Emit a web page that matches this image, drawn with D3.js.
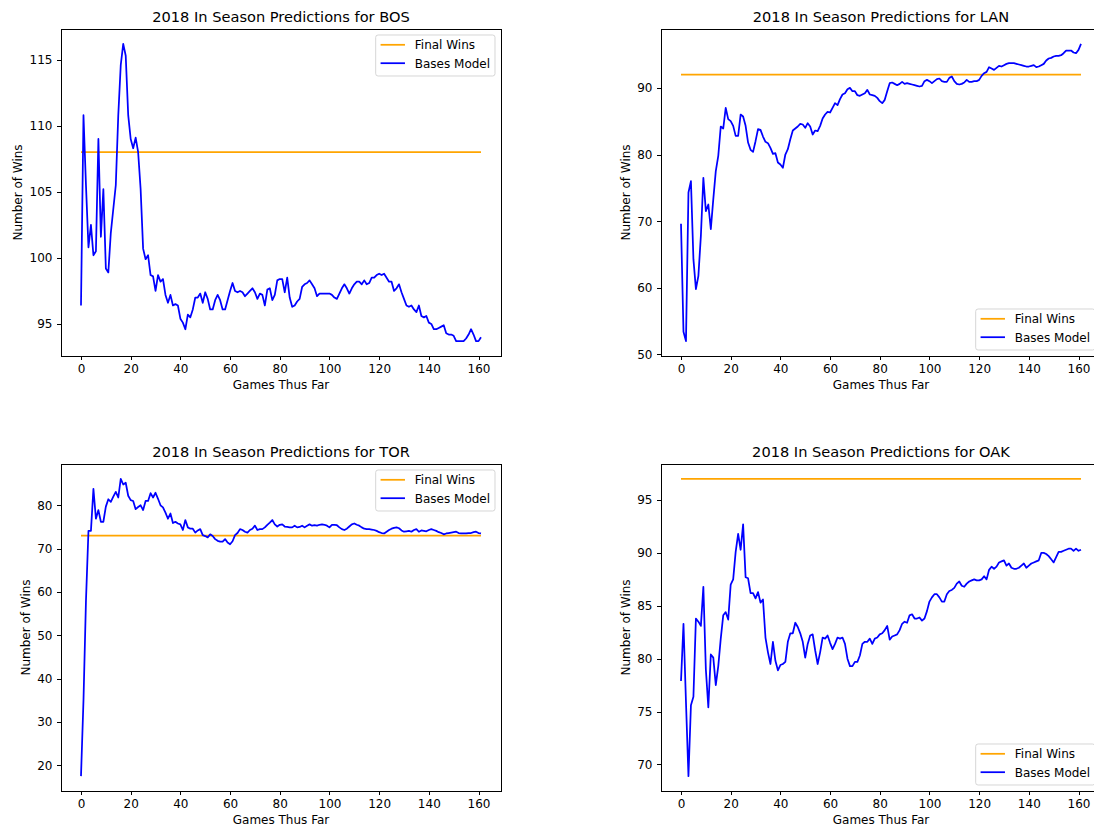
<!DOCTYPE html>
<html>
<head>
<meta charset="utf-8">
<script src="https://cdn.jsdelivr.net/npm/d3@7"></script>
<style>
  body { margin: 0; background: #fff; }
  svg { display: block; }
  text { font-family: "DejaVu Sans", sans-serif; fill: #000; }
</style>
</head>
<body>
<svg id="chart" width="1094" height="828"></svg>
<script>
// Predicted season win totals after each game played (index = games thus far)
const bosModel = [
  96.4, 110.8, 105.5, 100.8, 102.5, 100.2, 100.5, 109.0, 101.6, 105.2,
  99.2, 98.9, 101.9, 103.7, 105.5, 110.8, 114.6, 116.2, 115.3, 110.8,
  109.0, 108.3, 109.1, 108.0, 105.2, 100.7, 99.9, 100.2, 98.7, 98.6,
  97.5, 98.7, 98.2, 98.4, 97.2, 96.6, 97.2, 96.4, 96.5, 96.4,
  95.4, 95.1, 94.6, 95.7, 95.5, 96.1, 97.0, 97.0, 97.3, 96.6,
  97.4, 96.9, 96.1, 96.1, 96.8, 97.2, 96.8, 96.1, 96.1, 96.8,
  97.5, 98.1, 97.5, 97.4, 97.5, 97.4, 97.1, 97.3, 97.5, 97.7,
  97.4, 96.9, 97.3, 97.2, 96.4, 97.6, 97.7, 96.8, 97.2, 98.3,
  98.4, 98.4, 97.4, 98.5, 97.0, 96.3, 96.4, 96.7, 96.9, 97.8,
  98.0, 98.1, 98.3, 98.0, 97.7, 97.1, 97.3, 97.3, 97.3, 97.3,
  97.3, 97.2, 97.0, 96.9, 97.3, 97.7, 98.0, 97.7, 97.3, 97.7,
  98.0, 98.2, 98.2, 98.0, 98.3, 98.0, 98.1, 98.5, 98.5, 98.7,
  98.8, 98.7, 98.8, 98.5, 98.2, 98.2, 97.5, 97.7, 98.0, 97.4,
  96.9, 96.4, 96.3, 96.4, 96.1, 95.9, 96.4, 95.6, 95.5, 95.6,
  95.1, 95.0, 94.6, 94.6, 94.7, 94.8, 94.9, 94.3, 94.2, 94.2,
  94.1, 93.7, 93.7, 93.7, 93.7, 93.9, 94.2, 94.6, 94.2, 93.7,
  93.7, 94.0
];
const lanModel = [
  69.6, 53.4, 52.0, 74.3, 76.0, 64.3, 59.8, 61.8, 67.8, 76.5,
  71.5, 72.5, 68.8, 73.3, 77.5, 79.8, 84.2, 83.9, 87.0, 85.3,
  85.0, 84.3, 82.8, 82.8, 86.0, 85.7, 84.3, 81.8, 80.7, 80.4,
  82.0, 83.8, 83.7, 82.7, 81.9, 81.7, 81.0, 80.1, 80.2, 78.8,
  78.5, 78.0, 80.0, 80.8, 82.3, 83.6, 83.9, 84.2, 84.6, 84.5,
  84.0, 84.7, 84.2, 83.0, 83.6, 83.5, 84.3, 85.4, 86.0, 86.4,
  86.3, 87.0, 87.7, 87.4, 88.3, 89.0, 89.2, 89.8, 90.0, 89.5,
  89.5, 88.9, 88.8, 89.0, 89.2, 89.7, 89.0, 88.9, 88.8, 88.5,
  88.0, 87.7, 88.2, 89.5, 90.7, 90.8, 90.6, 90.4, 90.6, 90.9,
  90.6, 90.7, 90.6, 90.5, 90.4, 90.3, 90.2, 90.3, 91.0, 91.2,
  91.0, 90.7, 91.0, 91.3, 91.4, 91.0, 90.9, 90.9, 91.5, 91.7,
  91.0, 90.6, 90.5, 90.6, 90.8, 91.2, 90.9, 90.9, 91.0, 91.0,
  91.2, 91.8, 92.2, 92.4, 93.1, 92.9, 92.7, 93.0, 93.3, 93.2,
  93.4, 93.6, 93.7, 93.7, 93.7, 93.6, 93.5, 93.4, 93.3, 93.2,
  93.2, 93.3, 93.4, 93.1, 93.2, 93.4, 93.6, 94.1, 94.4, 94.5,
  94.7, 94.8, 94.8, 94.9, 95.2, 95.6, 95.6, 95.6, 95.3, 95.2,
  95.7, 96.6
];
const torModel = [
  17.5, 35.0, 58.0, 74.1, 74.1, 83.8, 76.9, 78.9, 76.2, 76.2,
  79.7, 81.4, 80.8, 82.0, 83.1, 81.8, 86.1, 84.8, 85.2, 82.2,
  81.2, 81.0, 79.1, 79.6, 80.0, 78.9, 81.0, 81.0, 82.8, 81.8,
  82.9, 81.5, 80.0, 79.5, 78.3, 76.9, 78.1, 75.9, 76.2, 75.8,
  75.6, 74.3, 76.6, 74.9, 74.6, 74.6, 73.7, 74.2, 74.5, 73.1,
  72.9, 72.6, 73.3, 72.9, 72.2, 71.8, 71.6, 71.6, 72.2, 71.4,
  71.0, 71.7, 73.1, 73.6, 74.5, 74.3, 73.9, 73.7, 74.3, 74.6,
  75.3, 74.3, 74.5, 74.5, 74.9, 75.5, 76.0, 76.6, 75.6, 75.1,
  75.5, 75.6, 75.1, 75.0, 74.9, 74.9, 75.3, 74.9, 75.0, 75.3,
  74.9, 75.3, 75.6, 75.3, 75.4, 75.3, 75.5, 75.6, 75.5, 75.3,
  74.9, 75.5, 75.5, 75.4, 74.9, 74.5, 74.3, 74.6, 75.1, 75.6,
  75.8, 75.5, 75.3, 74.9, 74.6, 74.5, 74.5, 74.4, 74.3, 74.1,
  73.8, 73.6, 73.5, 73.9, 74.3, 74.6, 74.8, 74.9, 74.7, 74.2,
  73.9, 74.0, 74.1, 73.9, 74.3, 74.5, 73.9, 74.2, 74.1, 74.0,
  74.3, 74.5, 74.3, 74.1, 73.8, 73.6, 73.3, 73.5, 73.6, 73.7,
  73.8, 73.9, 73.6, 73.5, 73.5, 73.5, 73.6, 73.6, 73.8, 73.9,
  73.6, 73.5
];
const oakModel = [
  77.9, 83.3, 75.9, 68.9, 75.6, 76.4, 83.8, 83.5, 83.1, 86.8,
  79.0, 75.4, 80.4, 80.1, 77.5, 79.3, 81.9, 84.1, 84.4, 83.7,
  87.0, 87.5, 90.1, 91.8, 90.3, 92.7, 87.7, 87.6, 86.2, 86.2,
  85.7, 86.3, 85.3, 85.6, 82.0, 80.6, 79.5, 81.6, 79.8, 78.9,
  79.4, 79.5, 79.7, 81.6, 82.4, 82.4, 83.4, 83.0, 82.4, 81.6,
  80.1, 81.4, 82.2, 82.3, 80.8, 79.5, 80.6, 82.0, 81.9, 82.2,
  81.5, 80.9, 81.4, 82.0, 81.9, 82.0, 81.4, 80.0, 79.3, 79.3,
  79.7, 79.7, 80.3, 81.4, 81.6, 81.6, 81.9, 81.4, 81.9, 82.0,
  82.3, 82.4, 82.7, 83.1, 81.8, 82.1, 82.2, 82.3, 82.7, 83.3,
  83.5, 83.4, 84.1, 84.2, 83.8, 83.8, 83.9, 83.6, 83.8, 84.5,
  85.4, 85.8, 86.1, 86.1, 85.8, 85.4, 85.4, 86.1, 86.4, 86.5,
  86.7, 87.1, 87.3, 86.9, 86.8, 87.1, 87.3, 87.4, 87.5, 87.4,
  87.4, 87.5, 87.8, 87.5, 88.4, 88.7, 88.5, 88.7, 89.1, 89.2,
  89.3, 88.8, 89.0, 88.6, 88.5, 88.5, 88.6, 88.8, 89.0, 88.6,
  88.8, 89.0, 89.1, 89.2, 89.3, 90.0, 90.0, 89.9, 89.7, 89.4,
  89.1, 89.6, 90.1, 90.1, 90.2, 90.3, 90.4, 90.4, 90.2, 90.4,
  90.2, 90.3
];

// Actual final win totals
const teams = ["BOS", "LAN", "TOR", "OAK"];
const finalWins = [108, 92, 73, 97];

// Axis tick values
const xTicks = [0, 20, 40, 60, 80, 100, 120, 140, 160];
const bosTicks = [95, 100, 105, 110, 115];
const lanTicks = [50, 60, 70, 80, 90];
const torTicks = [20, 30, 40, 50, 60, 70, 80];
const oakTicks = [70, 75, 80, 85, 90, 95];

const seriesLabels = ["Final Wins", "Bases Model"];
const colors = { final: "orange", model: "blue" };

// Panel layout (2 x 2 grid)
const axW = 440, axH = 327;
const FS = 12, TITLE_FS = 14.6;
const TICK = 4.3, PAD = 4.3;

const panels = [
  { team: teams[0], model: bosModel, final: finalWins[0], yTicks: bosTicks, left: 61,  top: 29,  loc: "upper right" },
  { team: teams[1], model: lanModel, final: finalWins[1], yTicks: lanTicks, left: 661, top: 29,  loc: "lower right" },
  { team: teams[2], model: torModel, final: finalWins[2], yTicks: torTicks, left: 61,  top: 464, loc: "upper right" },
  { team: teams[3], model: oakModel, final: finalWins[3], yTicks: oakTicks, left: 661, top: 464, loc: "lower right" }
];

const svg = d3.select("#chart");

// 5% margin on each side of the data range
function padded(ext) {
  const span = ext[1] - ext[0];
  return [ext[0] - span * 0.05, ext[1] + span * 0.05];
}

panels.forEach((p, pi) => {
  const g = svg.append("g").attr("transform", `translate(${p.left},${p.top})`);
  const n = p.model.length;

  const x = d3.scaleLinear().domain(padded([0, n - 1])).range([0, axW]);
  const y = d3.scaleLinear()
    .domain(padded(d3.extent(p.model.concat([p.final]))))
    .range([axH, 0]);

  const clipId = "clip" + pi;
  g.append("clipPath").attr("id", clipId)
    .append("rect").attr("width", axW).attr("height", axH);

  const plot = g.append("g").attr("clip-path", `url(#${clipId})`);

  // Final wins reference line
  plot.append("path")
    .datum([0, n - 1])
    .attr("d", d3.line().x(d => x(d)).y(() => y(p.final)))
    .attr("fill", "none")
    .attr("stroke", colors.final)
    .attr("stroke-width", 1.75);

  // Model prediction line
  plot.append("path")
    .datum(p.model)
    .attr("d", d3.line().x((d, i) => x(i)).y(d => y(d)))
    .attr("fill", "none")
    .attr("stroke", colors.model)
    .attr("stroke-width", 1.75)
    .attr("stroke-linejoin", "round");

  // Axes
  const xa = g.append("g")
    .attr("transform", `translate(0,${axH})`)
    .call(d3.axisBottom(x).tickValues(xTicks).tickFormat(d3.format("d"))
      .tickSize(TICK).tickPadding(PAD).tickSizeOuter(0));
  const ya = g.append("g")
    .call(d3.axisLeft(y).tickValues(p.yTicks).tickFormat(d3.format("d"))
      .tickSize(TICK).tickPadding(PAD).tickSizeOuter(0));
  [xa, ya].forEach(a => {
    a.select(".domain").remove();
    a.attr("font-family", null).attr("font-size", null);
    a.selectAll(".tick line").attr("stroke", "#000").attr("stroke-width", 1).attr("shape-rendering", "crispEdges");
    a.selectAll(".tick text").attr("font-size", FS).style("fill", "#000");
  });

  // Frame
  g.append("rect")
    .attr("width", axW).attr("height", axH)
    .attr("fill", "none").attr("stroke", "#000").attr("stroke-width", 1)
    .attr("shape-rendering", "crispEdges");

  // Title
  g.append("text")
    .attr("x", axW / 2).attr("y", -7)
    .attr("text-anchor", "middle")
    .attr("font-size", TITLE_FS)
    .text(`2018 In Season Predictions for ${p.team}`);

  // Axis labels
  g.append("text")
    .attr("x", axW / 2).attr("y", axH + 33)
    .attr("text-anchor", "middle")
    .attr("font-size", FS)
    .text("Games Thus Far");

  const tickLeft = d3.min(ya.selectAll(".tick text").nodes(), t => t.getBBox().x);
  g.append("text")
    .attr("transform", `translate(${tickLeft - 7.5},${axH / 2}) rotate(-90)`)
    .attr("text-anchor", "middle")
    .attr("font-size", FS)
    .text("Number of Wins");

  // Legend
  const lg = g.append("g");
  const box = lg.append("rect");
  const rowY = [9.8, 28.2];
  const items = [
    { label: seriesLabels[0], color: colors.final },
    { label: seriesLabels[1], color: colors.model }
  ];
  const labels = items.map((it, i) => {
    lg.append("line")
      .attr("x1", 4.9).attr("x2", 29.3)
      .attr("y1", rowY[i]).attr("y2", rowY[i])
      .attr("stroke", it.color).attr("stroke-width", 1.75);
    return lg.append("text")
      .attr("x", 39.1).attr("y", rowY[i]).attr("dy", "0.36em")
      .attr("font-size", FS)
      .text(it.label);
  });
  const tw = d3.max(labels, t => t.node().getComputedTextLength());
  const bw = 39.1 + tw + 4.9, bh = 41;
  box.attr("width", bw).attr("height", bh)
    .attr("rx", 2.4).attr("ry", 2.4)
    .attr("fill", "#fff").attr("fill-opacity", 0.8)
    .attr("stroke", "#cccccc").attr("stroke-opacity", 0.8).attr("stroke-width", 1);
  const bx = axW - 6 - bw;
  const by = p.loc === "upper right" ? 6 : axH - 6 - bh;
  lg.attr("transform", `translate(${bx},${by})`);
});
</script>
</body>
</html>
